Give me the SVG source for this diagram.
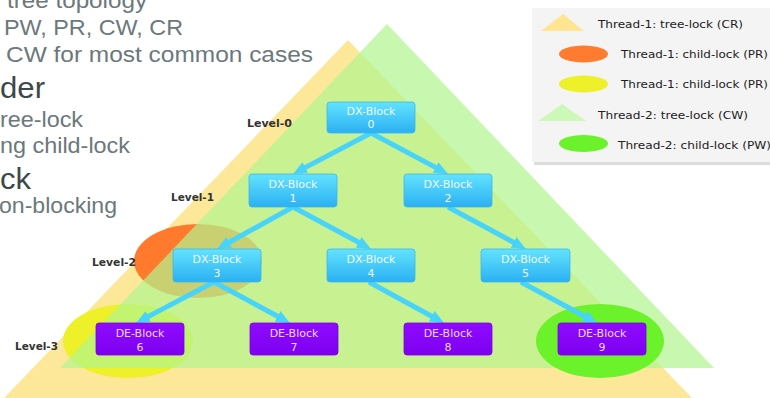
<svg xmlns="http://www.w3.org/2000/svg" width="770" height="398" viewBox="0 0 770 398">
<defs>
<linearGradient id="gx" x1="0" y1="0" x2="0" y2="1">
<stop offset="0" stop-color="#63E3FF"/>
<stop offset="1" stop-color="#2BB0F2"/>
</linearGradient>
<linearGradient id="ge" x1="0" y1="0" x2="0" y2="1">
<stop offset="0" stop-color="#8E0BFF"/>
<stop offset="1" stop-color="#7E00F0"/>
</linearGradient>
<marker id="ah" viewBox="0 0 14 12" markerWidth="14" markerHeight="12" refX="2" refY="6" orient="auto" markerUnits="userSpaceOnUse">
<path d="M0,0 L14,6 L0,12 z" fill="#48D3FA"/>
</marker>
<style>
.bg{font-family:"Liberation Sans",Arial,sans-serif;font-size:22px;fill:#6B787C}
.bgb{font-family:"Liberation Sans",Arial,sans-serif;font-size:30px;fill:#3E4749}
.lvl{font-family:"DejaVu Sans",Verdana,sans-serif;font-size:10px;font-weight:bold;fill:#333}
.lg{font-family:"DejaVu Sans",Verdana,sans-serif;font-size:11px;fill:#222}
.nt{font-family:"DejaVu Sans",Verdana,sans-serif;font-size:11px;fill:#EEF8FF;text-anchor:middle}
.ne{font-family:"DejaVu Sans",Verdana,sans-serif;font-size:11px;fill:#EAD9FF;text-anchor:middle}
.dx{fill:url(#gx);stroke:#3AB8EE;stroke-width:0.8}
.de{fill:url(#ge);stroke:#7A00E0;stroke-width:0.8}
.cn{stroke:#48D3FA;stroke-width:5;fill:none;marker-end:url(#ah)}
</style>
</defs>

<g id="background-text">
<text class="bg" x="7" y="8" textLength="140" lengthAdjust="spacingAndGlyphs">tree topology</text>
<text class="bg" x="4" y="35" textLength="179" lengthAdjust="spacingAndGlyphs">PW, PR, CW, CR</text>
<text class="bg" x="6" y="62" textLength="307" lengthAdjust="spacingAndGlyphs">CW for most common cases</text>
<text class="bgb" x="0" y="98" textLength="45" lengthAdjust="spacingAndGlyphs">der</text>
<text class="bg" x="0" y="127" textLength="83" lengthAdjust="spacingAndGlyphs">ree-lock</text>
<text class="bg" x="0" y="153" textLength="130" lengthAdjust="spacingAndGlyphs">ng child-lock</text>
<text class="bgb" x="0" y="189" textLength="31" lengthAdjust="spacingAndGlyphs">ck</text>
<text class="bg" x="-1" y="213" textLength="118" lengthAdjust="spacingAndGlyphs">on-blocking</text>
</g>

<g id="lock-regions">
<polygon id="thread1-tree" points="348,40 692,398 4,398" fill="#FDE89A"/>
<ellipse id="thread1-child-orange" cx="198" cy="261" rx="64" ry="37" fill="#FF7A2C"/>
<ellipse id="thread1-child-yellow" cx="128" cy="341" rx="65" ry="37" fill="#EEF02A"/>
<polygon id="thread2-tree" points="387,24 714,368 60,368" fill="#B0F58E" fill-opacity="0.7"/>
<ellipse id="thread2-child" cx="600" cy="341" rx="64" ry="37" fill="#6CF22A"/>
</g>

<g id="levels">
<text class="lvl" x="247" y="127" textLength="45" lengthAdjust="spacingAndGlyphs">Level-0</text>
<text class="lvl" x="171" y="201" textLength="43" lengthAdjust="spacingAndGlyphs">Level-1</text>
<text class="lvl" x="92" y="266" textLength="44" lengthAdjust="spacingAndGlyphs">Level-2</text>
<text class="lvl" x="15" y="350" textLength="43" lengthAdjust="spacingAndGlyphs">Level-3</text>
</g>

<g id="connectors">
<line class="cn" x1="371" y1="133" x2="303.6" y2="168.4"/>
<line class="cn" x1="371" y1="133" x2="437.4" y2="168.4"/>
<line class="cn" x1="293" y1="207" x2="227.5" y2="243.2"/>
<line class="cn" x1="293" y1="207" x2="360.4" y2="243.3"/>
<line class="cn" x1="448" y1="207" x2="515.4" y2="243.3"/>
<line class="cn" x1="214" y1="282" x2="146.6" y2="317.4"/>
<line class="cn" x1="214" y1="282" x2="279.4" y2="317.3"/>
<line class="cn" x1="369" y1="282" x2="433.5" y2="317.2"/>
<line class="cn" x1="521" y1="282" x2="586.4" y2="317.3"/>
</g>

<g id="dx0"><rect class="dx" x="327" y="102" width="88" height="31" rx="3"/><text class="nt" x="371" y="115">DX-Block</text><text class="nt" x="371" y="128">0</text></g>
<g id="dx1"><rect class="dx" x="249" y="174" width="88" height="33" rx="3"/><text class="nt" x="293" y="188">DX-Block</text><text class="nt" x="293" y="202">1</text></g>
<g id="dx2"><rect class="dx" x="404" y="174" width="88" height="33" rx="3"/><text class="nt" x="448" y="188">DX-Block</text><text class="nt" x="448" y="202">2</text></g>
<g id="dx3"><rect class="dx" x="173" y="249" width="88" height="33" rx="3"/><text class="nt" x="217" y="263">DX-Block</text><text class="nt" x="217" y="277">3</text></g>
<g id="dx4"><rect class="dx" x="327" y="249" width="88" height="33" rx="3"/><text class="nt" x="371" y="263">DX-Block</text><text class="nt" x="371" y="277">4</text></g>
<g id="dx5"><rect class="dx" x="481" y="249" width="89" height="33" rx="3"/><text class="nt" x="525.5" y="263">DX-Block</text><text class="nt" x="525.5" y="277">5</text></g>
<g id="de6"><rect class="de" x="96" y="323" width="88" height="32" rx="3"/><text class="ne" x="140" y="337">DE-Block</text><text class="ne" x="140" y="351">6</text></g>
<g id="de7"><rect class="de" x="250" y="323" width="88" height="32" rx="3"/><text class="ne" x="294" y="337">DE-Block</text><text class="ne" x="294" y="351">7</text></g>
<g id="de8"><rect class="de" x="404" y="323" width="88" height="32" rx="3"/><text class="ne" x="448" y="337">DE-Block</text><text class="ne" x="448" y="351">8</text></g>
<g id="de9"><rect class="de" x="558" y="323" width="88" height="32" rx="3"/><text class="ne" x="602" y="337">DE-Block</text><text class="ne" x="602" y="351">9</text></g>

<g id="legend">
<rect x="534" y="11" width="240" height="154" fill="#DCDCDC"/>
<rect x="532" y="8" width="240" height="154" fill="#F4F4F4"/>
<polygon points="563,14 584,31 541,31" fill="#FFE591"/>
<text class="lg" x="598" y="28" textLength="145" lengthAdjust="spacingAndGlyphs">Thread-1: tree-lock (CR)</text>
<ellipse cx="583.5" cy="54" rx="24.5" ry="8.5" fill="#FF7B30"/>
<text class="lg" x="621" y="58" textLength="147" lengthAdjust="spacingAndGlyphs">Thread-1: child-lock (PR)</text>
<ellipse cx="583.5" cy="84" rx="24.5" ry="8.5" fill="#EEF02A"/>
<text class="lg" x="621" y="88" textLength="147" lengthAdjust="spacingAndGlyphs">Thread-1: child-lock (PR)</text>
<polygon points="562,104 586,121 538,121" fill="#CDF9B8"/>
<text class="lg" x="598" y="119" textLength="150" lengthAdjust="spacingAndGlyphs">Thread-2: tree-lock (CW)</text>
<ellipse cx="583.5" cy="143.5" rx="24.5" ry="8.5" fill="#6CF22A"/>
<text class="lg" x="618" y="149" textLength="153" lengthAdjust="spacingAndGlyphs">Thread-2: child-lock (PW)</text>
</g>
</svg>
